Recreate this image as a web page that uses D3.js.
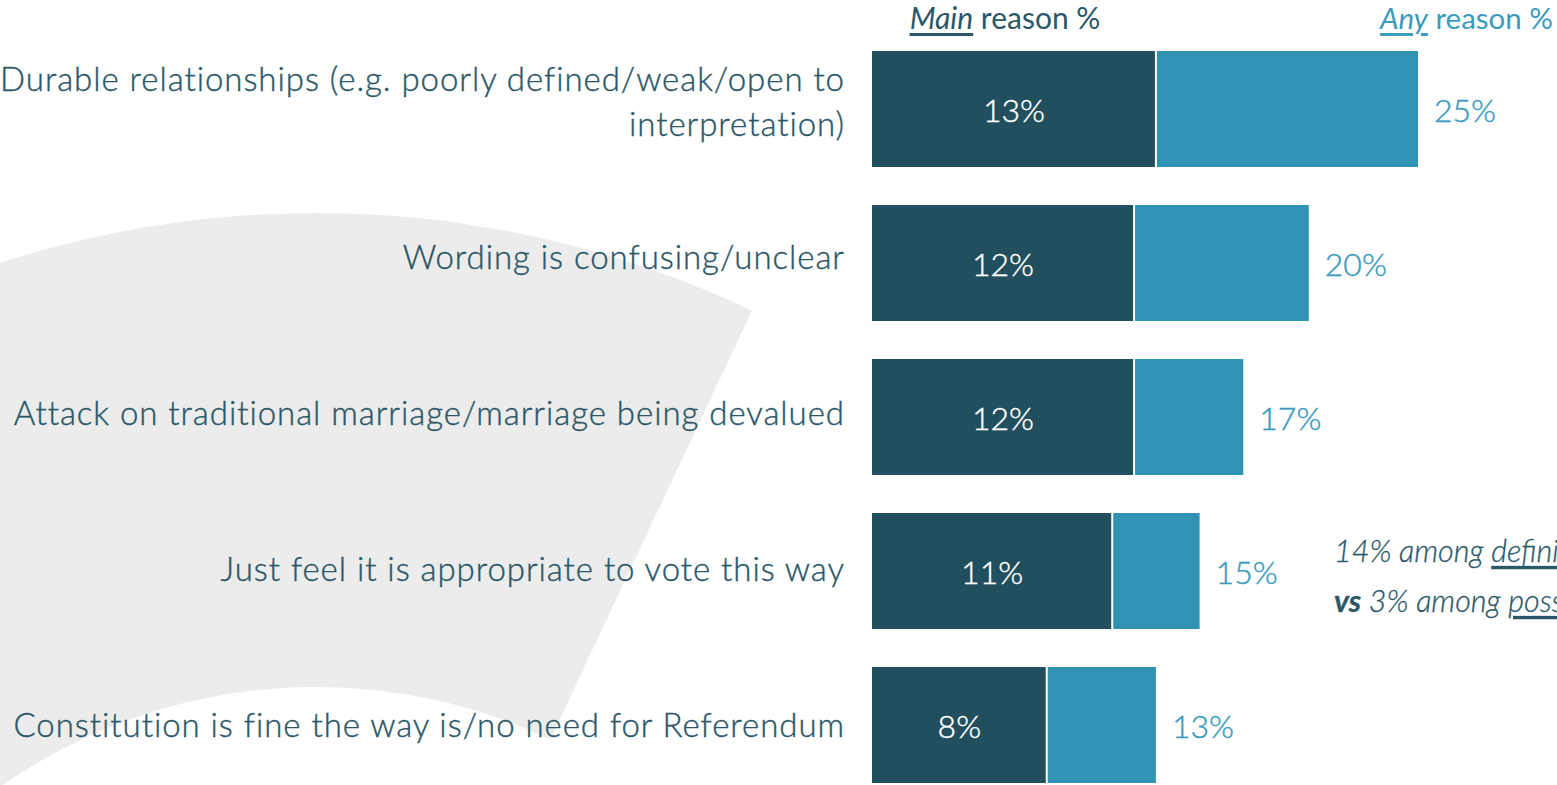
<!DOCTYPE html>
<html><head><meta charset="utf-8">
<script src="https://cdnjs.cloudflare.com/ajax/libs/d3/7.8.5/d3.min.js"></script>
<style>
html,body{margin:0;padding:0;background:#fff;overflow:hidden;}
svg{display:block;}
</style></head>
<body>
<svg id="chart" width="1557" height="785"></svg>
<script>
const categories = [
  ["Durable relationships (e.g. poorly defined/weak/open to", "interpretation)"],
  ["Wording is confusing/unclear"],
  ["Attack on traditional marriage/marriage being devalued"],
  ["Just feel it is appropriate to vote this way"],
  ["Constitution is fine the way is/no need for Referendum"]
];
const mainReason = [13, 12, 12, 11, 8];
const anyReason = [25, 20, 17, 15, 13];

const DARK = "#224f5e", LIGHT = "#3093b4", TEXT = "#2b5767", LIGHTTEXT = "#3a9bbd";
const FONT = "Lato, 'Open Sans', sans-serif";

const svg = d3.select("#chart");

// background decorative arc
const arc = d3.arc().innerRadius(550).outerRadius(1024).startAngle(-1.4).endAngle(0.44);
svg.append("path").attr("d", arc()).attr("transform", "translate(316,1237)").attr("fill", "#ececec");

const x = d3.scaleLinear().domain([0, 25]).range([872, 1418]);
const idx = d3.range(categories.length);
const y = d3.scaleBand().domain(idx).range([32, 802]).paddingInner(0.2468).paddingOuter(0.1234);
const yLab = d3.scalePoint().domain(idx).range([100, 724]);

const g = svg.append("g");
g.selectAll("rect.any").data(idx).join("rect").attr("class","any")
  .attr("x", x(0)).attr("y", i => y(i)).attr("width", i => x(anyReason[i]) - x(0))
  .attr("height", y.bandwidth()).attr("fill", LIGHT);
g.selectAll("rect.main").data(idx).join("rect").attr("class","main")
  .attr("x", x(0)).attr("y", i => y(i)).attr("width", i => x(mainReason[i]) - x(0))
  .attr("height", y.bandwidth()).attr("fill", DARK);
g.selectAll("line.sep").data(idx).join("line").attr("class","sep")
  .attr("x1", i => x(mainReason[i])).attr("x2", i => x(mainReason[i]))
  .attr("y1", i => y(i)).attr("y2", i => y(i) + y.bandwidth())
  .attr("stroke", "#fff").attr("stroke-width", 2);

g.selectAll("text.mv").data(idx).join("text").attr("class","mv")
  .attr("x", i => (x(0) + x(mainReason[i])) / 2).attr("y", i => y(i) + y.bandwidth()/2)
  .attr("text-anchor","middle").attr("dominant-baseline","central")
  .attr("fill","#fff").attr("stroke","#fff").attr("stroke-width",0.4)
  .style("font-family",FONT).style("font-size","32px").style("font-weight","300")
  .text(i => mainReason[i] + "%");
g.selectAll("text.av").data(idx).join("text").attr("class","av")
  .attr("x", i => x(anyReason[i]) + 16).attr("y", i => y(i) + y.bandwidth()/2)
  .attr("text-anchor","start").attr("dominant-baseline","central")
  .attr("fill",LIGHTTEXT).attr("stroke",LIGHTTEXT).attr("stroke-width",0.4)
  .style("font-family",FONT).style("font-size","32px").style("font-weight","300")
  .text(i => anyReason[i] + "%");

const lab = g.selectAll("text.cat").data(idx).join("text").attr("class","cat")
  .attr("text-anchor","end").attr("fill",TEXT).attr("stroke",TEXT).attr("stroke-width",0.4)
  .style("font-family",FONT).style("font-size","33px").style("font-weight","300")
  .style("letter-spacing","0.95px");
lab.each(function(i){
  const lines = categories[i];
  const cy = yLab(i);
  const lh = 45;
  const t = d3.select(this);
  lines.forEach((l, k) => {
    t.append("tspan").attr("x", 845).attr("y", cy + (k - (lines.length-1)/2) * lh)
      .attr("dominant-baseline","central").text(l);
  });
});

const h1 = svg.append("text").attr("x", 1005).attr("y", 17).attr("text-anchor","middle")
  .attr("dominant-baseline","central").style("font-family",FONT).style("font-size","30px").attr("fill",TEXT);
h1.append("tspan").style("font-style","italic").style("text-decoration","underline").text("Main");
h1.append("tspan").text(" reason %");
const h2 = svg.append("text").attr("x", 1553).attr("y", 17).attr("text-anchor","end")
  .attr("dominant-baseline","central").style("font-family",FONT).style("font-size","29.5px").attr("fill",LIGHTTEXT);
h2.append("tspan").style("font-style","italic").style("text-decoration","underline").text("Any");
h2.append("tspan").text(" reason %");

const n1 = svg.append("text").attr("x",1334).attr("y",550).attr("dominant-baseline","central")
  .style("font-family",FONT).style("font-size","30.5px").style("font-style","italic").style("font-weight","300")
  .attr("fill",TEXT).attr("stroke",TEXT).attr("stroke-width",0.3);
n1.append("tspan").text("14% among ");
n1.append("tspan").style("text-decoration","underline").text("definite");
n1.append("tspan").text(" No voters");
const n2 = svg.append("text").attr("x",1334).attr("y",600).attr("dominant-baseline","central")
  .style("font-family",FONT).style("font-size","30.5px").style("font-style","italic").style("font-weight","300")
  .attr("fill",TEXT).attr("stroke",TEXT).attr("stroke-width",0.3);
n2.append("tspan").style("font-weight","bold").text("vs");
n2.append("tspan").text(" 3% among ");
n2.append("tspan").style("text-decoration","underline").text("possible");
n2.append("tspan").text(" No voters");
</script>
</body></html>
